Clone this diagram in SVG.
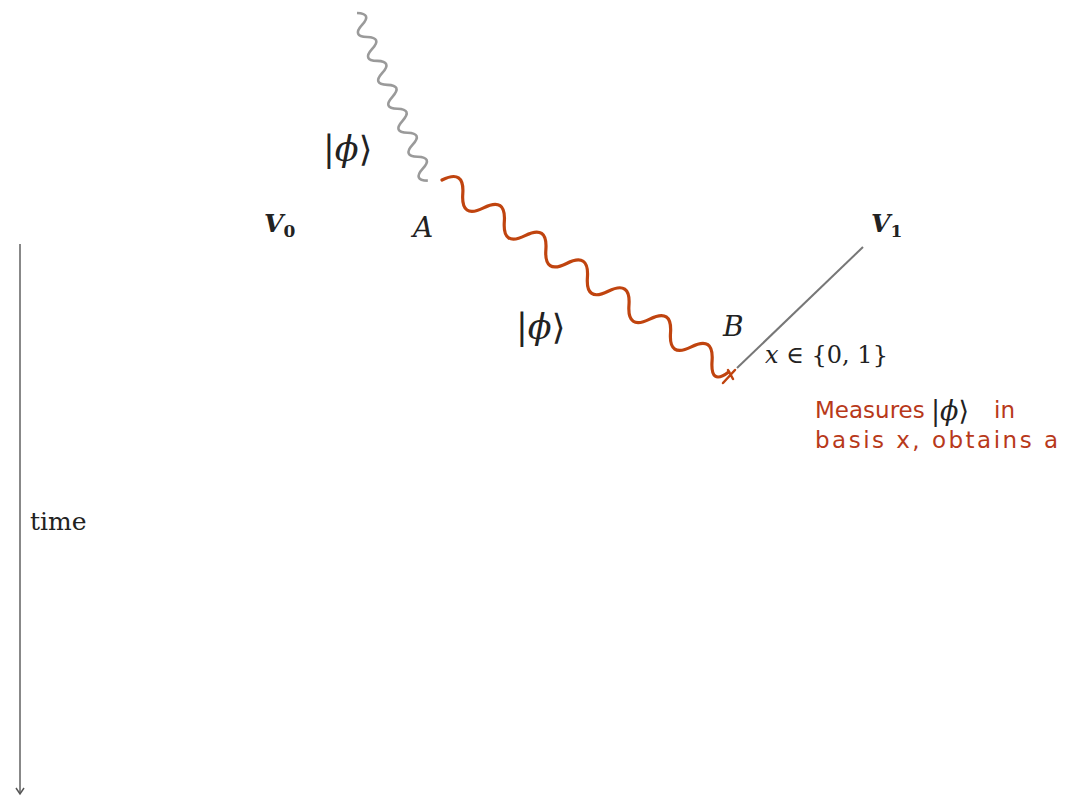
<svg xmlns="http://www.w3.org/2000/svg" width="1092" height="799" viewBox="0 0 1092 799">
<style>
.tex{font-family:"DejaVu Serif","Liberation Serif",serif;fill:#222}
.it{font-style:italic}
.hand{font-family:"DejaVu Sans","Noto Sans",sans-serif;fill:#b8391a;font-size:23px}
.ket{font-family:"DejaVu Serif","DejaVu Sans",serif;fill:#222}
</style>
<defs>
<marker id="ah" markerWidth="10" markerHeight="10" refX="8" refY="5" orient="auto" markerUnits="userSpaceOnUse" viewBox="0 0 10 10">
<path d="M2,1 L8,5 L2,9" fill="none" stroke="#555" stroke-width="1.5"/>
</marker>
</defs>
<rect width="1092" height="799" fill="#fff"/>
<g id="connectors">
<path id="gray-wave" d="M0,0 q6.5,-14 13,0 t13,0 t13,0 t13,0 t13,0 t13,0 t13,0 t13,0 t13,0 t13,0 t13,0 t13,0 t13,0 t13,0" transform="translate(357,13) rotate(67.1)" fill="none" stroke="#9a9a9a" stroke-width="2.6"/>
<path id="red-wave" d="M0,0 q12.5,-22 25,0 t25,0 t25,0 t25,0 t25,0 t25,0 t25,0 t25,0 t25,0 t25,0 t25,0 t25,0 t25,0 t20,0" transform="translate(442,180) rotate(33.8)" fill="none" stroke="#c0440f" stroke-width="3.2" stroke-linecap="round"/>
<path d="M723,383 L735,370 M728,370 L733,379" fill="none" stroke="#c0440f" stroke-width="2.5" stroke-linecap="round"/>
<line id="v1-line" x1="737" y1="368" x2="863" y2="247" stroke="#777" stroke-width="2"/>
<line id="time-axis" x1="20" y1="244" x2="20" y2="794" stroke="#888" stroke-width="2" marker-end="url(#ah)"/>
</g>
<g id="node-V0"><text x="264" y="232" class="tex" font-size="25" font-weight="bold" font-style="italic">V<tspan font-size="17" font-style="normal" dy="5">0</tspan></text></g>
<g id="node-A"><text x="413" y="237" class="tex it" font-size="28">A</text></g>
<g id="node-V1"><text x="871" y="232" class="tex" font-size="25" font-weight="bold" font-style="italic">V<tspan font-size="17" font-style="normal" dy="5">1</tspan></text></g>
<g id="node-B"><text x="723" y="336" class="tex it" font-size="28">B</text></g>
<g id="label-phi1"><text x="323" y="161" class="ket" font-size="35">|<tspan font-style="italic">ϕ</tspan>⟩</text></g>
<g id="label-phi2"><text x="516" y="339" class="ket" font-size="35">|<tspan font-style="italic">ϕ</tspan>⟩</text></g>
<g id="label-x"><text x="765" y="363" class="tex" font-size="24" fill="#333"><tspan font-style="italic">x</tspan> ∈ {0, 1}</text></g>
<g id="label-time"><text x="30" y="530" class="tex" font-size="25">time</text></g>
<g id="note">
<text x="815" y="418" class="hand">Measures</text>
<text x="931" y="420" class="ket" font-size="27">|<tspan font-style="italic">ϕ</tspan>⟩</text>
<text x="994" y="418" class="hand">in</text>
<text x="815" y="448" class="hand" font-size="24" textLength="243" lengthAdjust="spacing">basis x, obtains a</text>
</g>
</svg>
